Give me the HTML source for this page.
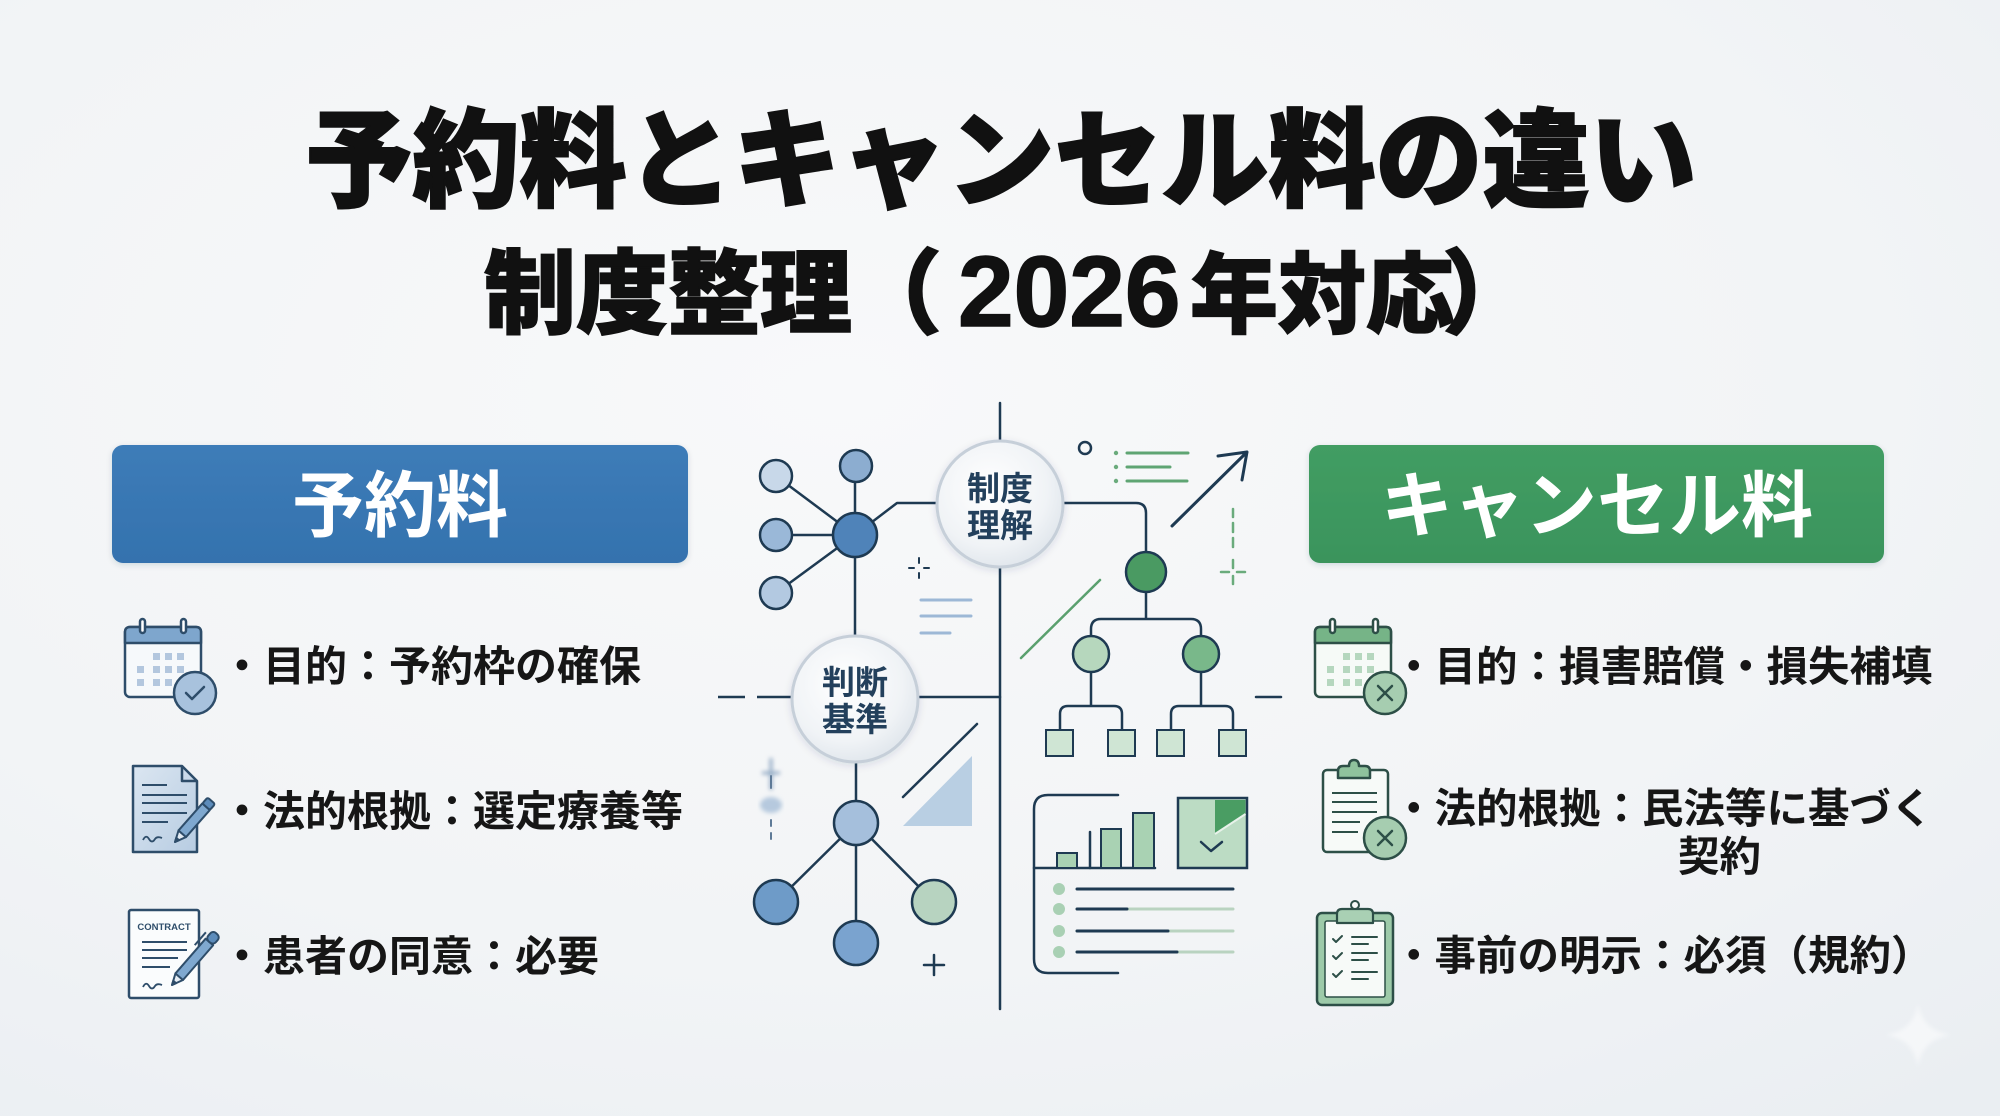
<!DOCTYPE html>
<html><head><meta charset="utf-8">
<style>
html,body{margin:0;padding:0;}
body{width:2000px;height:1116px;overflow:hidden;background:#f1f4f6;}
svg{display:block;}
text{font-family:"Liberation Sans","Noto Sans CJK JP",sans-serif;}
</style></head><body>
<svg width="2000" height="1116" viewBox="0 0 2000 1116" xmlns="http://www.w3.org/2000/svg">
<defs>
<radialGradient id="bg" cx="0.42" cy="0.35" r="0.85">
<stop offset="0" stop-color="#f8f9fa"/>
<stop offset="0.6" stop-color="#f2f4f6"/>
<stop offset="1" stop-color="#eaeef2"/>
</radialGradient>
<radialGradient id="cg" cx="0.42" cy="0.38" r="0.65">
<stop offset="0" stop-color="#ffffff"/>
<stop offset="0.7" stop-color="#f0f3f6"/>
<stop offset="1" stop-color="#e0e6ec"/>
</radialGradient>
<linearGradient id="blueBox" x1="0" y1="0" x2="0" y2="1"><stop offset="0" stop-color="#3d7cb8"/><stop offset="1" stop-color="#3472ae"/></linearGradient>
<linearGradient id="greenBox" x1="0" y1="0" x2="0" y2="1"><stop offset="0" stop-color="#429d63"/><stop offset="1" stop-color="#3a945c"/></linearGradient>
<linearGradient id="docg" x1="0" y1="0" x2="1" y2="1"><stop offset="0" stop-color="#dbe6f1"/><stop offset="1" stop-color="#b7cce2"/></linearGradient>
<filter id="sh" x="-5%" y="-10%" width="110%" height="130%"><feDropShadow dx="0" dy="2" stdDeviation="3" flood-color="#1e3a52" flood-opacity="0.15"/></filter>
<filter id="csh" x="-20%" y="-20%" width="140%" height="140%"><feDropShadow dx="0" dy="2" stdDeviation="4" flood-color="#1e3a52" flood-opacity="0.12"/></filter>
<filter id="blur2"><feGaussianBlur stdDeviation="2"/></filter>
<filter id="blur5"><feGaussianBlur stdDeviation="5"/></filter>
</defs>

<rect x="0" y="0" width="2000" height="1116" fill="url(#bg)"/>

<!-- Title -->
<text x="1001" y="198" font-size="107" font-weight="900" fill="#111" stroke="#111" stroke-width="2" text-anchor="middle">予約料とキャンセル料の違い</text>
<text y="326" font-weight="900" fill="#111" stroke="#111" stroke-width="1.5">
<tspan x="484" font-size="92">制度整理</tspan><tspan x="850" font-size="92">（</tspan><tspan x="958" font-size="100">2026</tspan><tspan x="1190" font-size="88">年対応</tspan><tspan x="1442" font-size="92">）</tspan>
</text>

<!-- Header boxes -->
<rect x="112" y="445" width="576" height="118" rx="11" fill="url(#blueBox)" filter="url(#sh)"/>
<text x="400" y="531" font-size="72" font-weight="700" fill="#fff" text-anchor="middle">予約料</text>
<rect x="1309" y="445" width="575" height="118" rx="11" fill="url(#greenBox)" filter="url(#sh)"/>
<text x="1597" y="531" font-size="72" font-weight="700" fill="#fff" text-anchor="middle">キャンセル料</text>

<!-- Left items text -->
<g font-size="42" font-weight="700" fill="#161616">
<text x="221" y="681">・目的：予約枠の確保</text>
<text x="221" y="826">・法的根拠：選定療養等</text>
<text x="221" y="971">・患者の同意：必要</text>
</g>
<!-- Right items text -->
<g font-size="41.5" font-weight="700" fill="#161616">
<text x="1393" y="681">・目的：損害賠償・損失補填</text>
<text x="1393" y="823">・法的根拠：民法等に基づく</text>
<text x="1678" y="871">契約</text>
<text x="1393" y="970">・事前の明示：必須（規約）</text>
</g>

<!-- Left icon 1: calendar with check -->
<g stroke="#2e4d6a" stroke-width="2.5" stroke-linejoin="round">
<rect x="125" y="627" width="76" height="70" rx="5" fill="#f6f9fb"/>
<path d="M125 643 V632 Q125 627 130 627 H196 Q201 627 201 632 V643 Z" fill="#7ea6cd"/>
<rect x="140" y="619" width="5" height="14" rx="2.5" fill="#fff"/>
<rect x="181" y="619" width="5" height="14" rx="2.5" fill="#fff"/>
</g>
<g fill="#b3c7de">
<rect x="153" y="653" width="7" height="7"/><rect x="165" y="653" width="7" height="7"/><rect x="177" y="653" width="7" height="7"/>
<rect x="137" y="666" width="7" height="7"/><rect x="153" y="666" width="7" height="7"/><rect x="165" y="666" width="7" height="7"/><rect x="177" y="666" width="7" height="7"/>
<rect x="137" y="679" width="7" height="7"/><rect x="153" y="679" width="7" height="7"/><rect x="165" y="679" width="7" height="7"/>
</g>
<circle cx="195" cy="693" r="21" fill="#a8c2dd" stroke="#2e4d6a" stroke-width="2.5"/>
<path d="M186 693 L192 699 L204 687" fill="none" stroke="#2e4d6a" stroke-width="2.5" stroke-linecap="round" stroke-linejoin="round"/>

<!-- Left icon 2: document with pen -->
<g stroke="#2e4d6a" stroke-width="2.5" stroke-linejoin="round" fill="none">
<path d="M133 766 H182 L197 781 V852 H133 Z" fill="url(#docg)"/>
<path d="M182 766 V781 H197"/>
<path d="M142 785 H167 M142 795 H187 M142 803 H187 M142 813 H187 M142 822 H168" stroke-width="2"/>
<path d="M143 840 q3 -6 6 -1 q3 5 6 0 q2 -3 7 -1" stroke-width="1.8"/>
</g>
<g transform="translate(175,842) rotate(-48.6)" stroke="#2e4d6a" stroke-width="2" stroke-linejoin="round">
<polygon points="0,0 11,-5 11,5" fill="#e4ecf4"/>
<polygon points="0,0 4,-1.8 4,1.8" fill="#2e4d6a"/>
<rect x="11" y="-5" width="36" height="10" fill="#7fa8cf"/>
<rect x="47" y="-5" width="8" height="10" rx="2" fill="#5d8cbb"/>
</g>

<!-- Left icon 3: contract -->
<g stroke="#2e4d6a" stroke-width="2.5" fill="none" stroke-linejoin="round">
<rect x="129" y="910" width="70" height="88" rx="2" fill="#fafcfd"/>
<path d="M142 942 H187 M142 950 H187 M142 958 H178 M142 967 H170" stroke-width="2"/>
<path d="M143 987 q3 -6 6 -1 q3 5 6 0 q2 -3 7 -1" stroke-width="1.8"/>
</g>
<text x="164" y="930" font-size="9.5" font-weight="700" fill="#2e4d6a" text-anchor="middle">CONTRACT</text>
<g transform="translate(172,985) rotate(-49)" stroke="#2e4d6a" stroke-width="2" stroke-linejoin="round">
<polygon points="0,0 11,-5 11,5" fill="#e4ecf4"/>
<polygon points="0,0 4,-1.8 4,1.8" fill="#2e4d6a"/>
<rect x="11" y="-5" width="46" height="10" fill="#7fa8cf"/>
<rect x="57" y="-5" width="11" height="10" rx="4" fill="#5d8cbb"/>
<path d="M45 -9 H62" fill="none"/>
</g>

<!-- Right icon 1: calendar with X -->
<g stroke="#2d4f47" stroke-width="2.5" stroke-linejoin="round">
<rect x="1315" y="627" width="76" height="70" rx="5" fill="#f6faf7"/>
<path d="M1315 643 V632 Q1315 627 1320 627 H1386 Q1391 627 1391 632 V643 Z" fill="#76b487"/>
<rect x="1330" y="619" width="5" height="14" rx="2.5" fill="#fff"/>
<rect x="1373" y="619" width="5" height="14" rx="2.5" fill="#fff"/>
</g>
<g fill="#b5d7be">
<rect x="1343" y="653" width="7" height="7"/><rect x="1355" y="653" width="7" height="7"/><rect x="1367" y="653" width="7" height="7"/>
<rect x="1327" y="666" width="7" height="7"/><rect x="1343" y="666" width="7" height="7"/><rect x="1355" y="666" width="7" height="7"/><rect x="1367" y="666" width="7" height="7"/>
<rect x="1327" y="679" width="7" height="7"/><rect x="1343" y="679" width="7" height="7"/><rect x="1355" y="679" width="7" height="7"/>
</g>
<circle cx="1385" cy="693" r="21" fill="#a6cdb0" stroke="#2d4f47" stroke-width="2.5"/>
<path d="M1378 686 L1392 700 M1392 686 L1378 700" stroke="#2d4f47" stroke-width="2.5" stroke-linecap="round"/>

<!-- Right icon 2: clipboard with X -->
<g stroke="#2d4f47" stroke-width="2.5" stroke-linejoin="round" fill="none">
<rect x="1323" y="770" width="65" height="82" rx="4" fill="#f7faf8"/>
<path d="M1338 778 V771 Q1338 766 1343 766 H1349 Q1349 760 1354 760 Q1359 760 1359 766 H1365 Q1370 766 1370 771 V778 Z" fill="#8fc29d"/>
<path d="M1332 793 H1377 M1332 802 H1377 M1332 812 H1377 M1332 822 H1360 M1332 832 H1358" stroke-width="2"/>
</g>
<circle cx="1385" cy="838" r="21" fill="#a6cdb0" stroke="#2d4f47" stroke-width="2.5"/>
<path d="M1378 831 L1392 845 M1392 831 L1378 845" stroke="#2d4f47" stroke-width="2.5" stroke-linecap="round"/>

<!-- Right icon 3: checklist clipboard -->
<g stroke="#2d4f47" stroke-linejoin="round">
<rect x="1317" y="913" width="76" height="92" rx="5" fill="#9dcaa9" stroke-width="2.5"/>
<rect x="1325" y="921" width="60" height="76" rx="2" fill="#f7faf8" stroke-width="1.5"/>
<path d="M1337 923 V914 Q1337 909 1342 909 H1368 Q1373 909 1373 914 V923 Z" fill="#a9d0b4" stroke-width="2.2"/>
<circle cx="1355" cy="905" r="4" fill="#f7faf8" stroke-width="2"/>
<g fill="none" stroke-width="2" stroke-linecap="round">
<path d="M1333 939 l3 3 l6 -6 M1333 956 l3 3 l6 -6 M1333 974 l3 3 l6 -6"/>
<path d="M1352 937 H1377 M1352 944 H1368 M1352 953 H1377 M1352 960 H1368 M1352 972 H1377 M1352 979 H1368"/>
</g>
</g>

<!-- ===== Central diagram ===== -->
<g stroke="#1e3a52" stroke-width="2.5" fill="none" stroke-linecap="round" stroke-linejoin="round">
<path d="M1000 403 V441"/>
<path d="M1000 567 V1009"/>
<path d="M937 503 H897 L855 535"/>
<path d="M855 535 L776 476 M855 535 L776 535 M855 535 L776 593"/>
<path d="M855 466 V636"/>
<path d="M918 697 H1000"/>
<path d="M718 697 H745 M757 697 H793" stroke-linecap="butt"/>
<path d="M1256 697 H1281"/>
<path d="M856 762 V943 M856 823 L776 902 M856 823 L934 902"/>
<path d="M934 955 V975 M924 965 H944"/>
<path d="M903 797 L977 724"/>
<path d="M909 568 H914 M924 568 H929 M919 558 V563 M919 573 V578" stroke-width="2"/>
<path d="M1063 503 H1136 Q1146 503 1146 513 V552"/>
<path d="M1146 592 V619 M1091 636 V629 Q1091 619 1101 619 H1191 Q1201 619 1201 629 V636"/>
<path d="M1091 672 V706 M1060 730 V714 Q1060 706 1068 706 H1114 Q1122 706 1122 714 V730"/>
<path d="M1201 672 V706 M1171 730 V714 Q1171 706 1179 706 H1225 Q1233 706 1233 714 V730"/>
<circle cx="1085" cy="448" r="6"/>
<path d="M1172 526 L1247 452 M1218 456 L1247 452 L1242 480" stroke-width="3"/>
<path d="M1118 795 H1048 Q1034 795 1034 809 V959 Q1034 973 1048 973 H1118"/>
<path d="M1034 868 H1155"/>
<path d="M1090 832 V868"/>
</g>

<g stroke="#9db8d6" stroke-width="3" stroke-linecap="round">
<path d="M921 600 H971 M921 616 H971 M921 633 H950"/>
</g>

<g stroke="#1e3a52" stroke-width="2.5">
<circle cx="776" cy="476" r="16" fill="#c8d8e9"/>
<circle cx="856" cy="466" r="16" fill="#8cadd0"/>
<circle cx="776" cy="535" r="16" fill="#9ab8d8"/>
<circle cx="776" cy="593" r="16" fill="#b3c9e1"/>
<circle cx="855" cy="535" r="22" fill="#4f83b9"/>
<circle cx="856" cy="823" r="22" fill="#a5bfdc"/>
<circle cx="776" cy="902" r="22" fill="#6e9bc8"/>
<circle cx="856" cy="943" r="22" fill="#7aa3cf"/>
<circle cx="934" cy="902" r="22" fill="#b7d3c0"/>
</g>

<polygon points="903,826 972,756 972,826" fill="#b9cfe3"/>

<g filter="url(#blur2)">
<path d="M771 758 V790 M762 773 H780" stroke="#8fa8c3" stroke-width="3" fill="none"/>
<ellipse cx="771" cy="805" rx="11" ry="8" fill="#b6c9de"/>
</g>
<path d="M771 776 V788 M771 820 V826 M771 833 V839" stroke="#5e7a97" stroke-width="2" stroke-linecap="round"/>

<g stroke="#1e3a52" stroke-width="2.5">
<circle cx="1146" cy="572" r="20" fill="#4a9a62"/>
<circle cx="1091" cy="654" r="18" fill="#b6d7bd"/>
<circle cx="1201" cy="654" r="18" fill="#79b88a"/>
<g stroke-width="2">
<rect x="1046" y="730" width="27" height="26" fill="#cfe5d4"/>
<rect x="1108" y="730" width="27" height="26" fill="#cfe5d4"/>
<rect x="1157" y="730" width="27" height="26" fill="#cfe5d4"/>
<rect x="1219" y="730" width="27" height="26" fill="#cfe5d4"/>
</g>
</g>

<path d="M1021 658 L1100 580" stroke="#5aa06e" stroke-width="2.5" stroke-linecap="round"/>
<g fill="#6aab7c"><circle cx="1116" cy="453" r="2.2"/><circle cx="1116" cy="467" r="2.2"/><circle cx="1116" cy="481" r="2.2"/></g>
<g stroke="#5fa573" stroke-width="3" stroke-linecap="round">
<path d="M1127 453 H1188 M1127 467 H1170 M1127 481 H1187"/>
</g>
<g stroke="#6aab7c" stroke-width="2.5" stroke-linecap="round">
<path d="M1233 509 V517 M1233 523 V532 M1233 538 V547"/>
<path d="M1221 572 H1229 M1237 572 H1245 M1233 560 V568 M1233 576 V584"/>
</g>

<g stroke="#1e3a52" stroke-width="2">
<rect x="1057" y="853" width="20" height="15" fill="#a9d2b3"/>
<rect x="1101" y="829" width="20" height="39" fill="#a9d2b3"/>
<rect x="1133" y="813" width="21" height="55" fill="#a9d2b3"/>
<rect x="1178" y="798" width="69" height="70" fill="#bcdcc4" stroke-width="2.5"/>
</g>
<polygon points="1215,800 1245.5,800 1245.5,814 1215,834" fill="#4a9d63"/>
<path d="M1215 834 L1245.5 814" stroke="#e8f2ea" stroke-width="2"/>
<path d="M1201 842 L1211 851 L1222 842" fill="none" stroke="#1e3a52" stroke-width="2.5" stroke-linecap="round" stroke-linejoin="round"/>
<g fill="#a9d0b4">
<circle cx="1059" cy="889" r="6"/><circle cx="1059" cy="909" r="6"/><circle cx="1059" cy="931" r="6"/><circle cx="1059" cy="952" r="6"/>
</g>
<g stroke-width="3" stroke-linecap="round">
<path d="M1077 909 H1233 M1077 931 H1233 M1077 952 H1233" stroke="#b9d3c0"/>
<path d="M1077 889 H1233 M1077 909 H1127 M1077 931 H1168 M1077 952 H1177" stroke="#1e3a52"/>
</g>

<circle cx="1000" cy="504" r="63" fill="url(#cg)" stroke="#c6cfd9" stroke-width="3" filter="url(#csh)"/>
<g font-size="33" font-weight="700" fill="#23405c" text-anchor="middle">
<text x="1000" y="500">制度</text>
<text x="1000" y="537">理解</text>
</g>
<circle cx="855" cy="699" r="63" fill="url(#cg)" stroke="#c6cfd9" stroke-width="3" filter="url(#csh)"/>
<g font-size="33" font-weight="700" fill="#23405c" text-anchor="middle">
<text x="855" y="694">判断</text>
<text x="855" y="731">基準</text>
</g>

<path d="M1918 1003 Q1922 1031 1951 1035 Q1922 1039 1918 1067 Q1914 1039 1885 1035 Q1914 1031 1918 1003 Z" fill="#ffffff" opacity="0.5" filter="url(#blur2)"/>
</svg>
</body></html>
